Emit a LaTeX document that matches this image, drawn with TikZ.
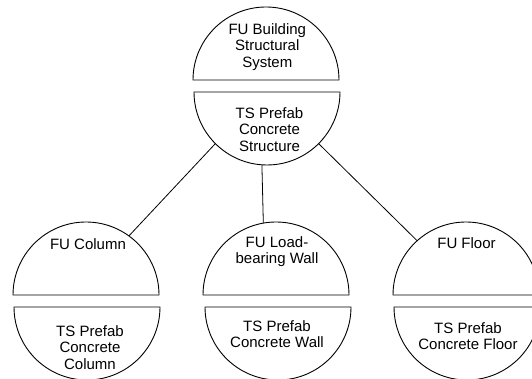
\documentclass[tikz,border=0pt]{standalone}
\usepackage{fontspec}
\setmainfont{Liberation Sans}
\begin{document}
\begin{tikzpicture}[x=1pt,y=1pt,
  shapeline/.style={line width=0.9pt},
  ring/.style={circle,inner sep=0pt,outer sep=0pt,minimum size=146pt},
  lbl/.style={align=center,font=\fontsize{15}{16.5}\selectfont,inner sep=0pt},
  conn/.style={line width=0.8pt}]
\clip (0,0) rectangle (532,379);
% circle frames (invisible) for each half
\node[ring] (topU) at (266,299) {};
\node[ring] (topL) at (267,287) {};
\node[ring] (colU) at (86,84) {};
\node[ring] (colL) at (87,72) {};
\node[ring] (walU) at (276,84) {};
\node[ring] (walL) at (278,72) {};
\node[ring] (floU) at (466,84) {};
\node[ring] (floL) at (467,72) {};
% upper halves
\foreach \n in {topU,colU,walU,floU}
  \draw[shapeline] (\n.west) arc (180:0:73) -- cycle;
% lower halves
\foreach \n in {topL,colL,walL,floL}
  \draw[shapeline] (\n.west) arc (180:360:73) -- cycle;
% texts
\node[lbl] (tTopU) at (267.3,332) {FU Building\\Structural\\System};
\node[lbl] (tTopL) at (269.5,249.5) {TS Prefab\\Concrete\\Structure};
\node[lbl] (tColU) at (88,135.3) {FU Column};
\node[lbl] (tColL) at (90,31.5) {TS Prefab\\Concrete\\Column};
\node[lbl] (tWalU) at (277,127.5) {FU Load-\\bearing Wall};
\node[lbl] (tWalL) at (277,45) {TS Prefab\\Concrete Wall};
\node[lbl] (tFloU) at (466.5,135.5) {FU Floor};
\node[lbl] (tFloL) at (468,43) {TS Prefab\\Concrete Floor};
% connectors
\draw[conn] (topL.225.5) -- (colU.54.6);
\draw[conn] (topL.266.9) -- (walU.100.3);
\draw[conn] (topL.315) -- (floU.132.8);
\end{tikzpicture}
\end{document}
